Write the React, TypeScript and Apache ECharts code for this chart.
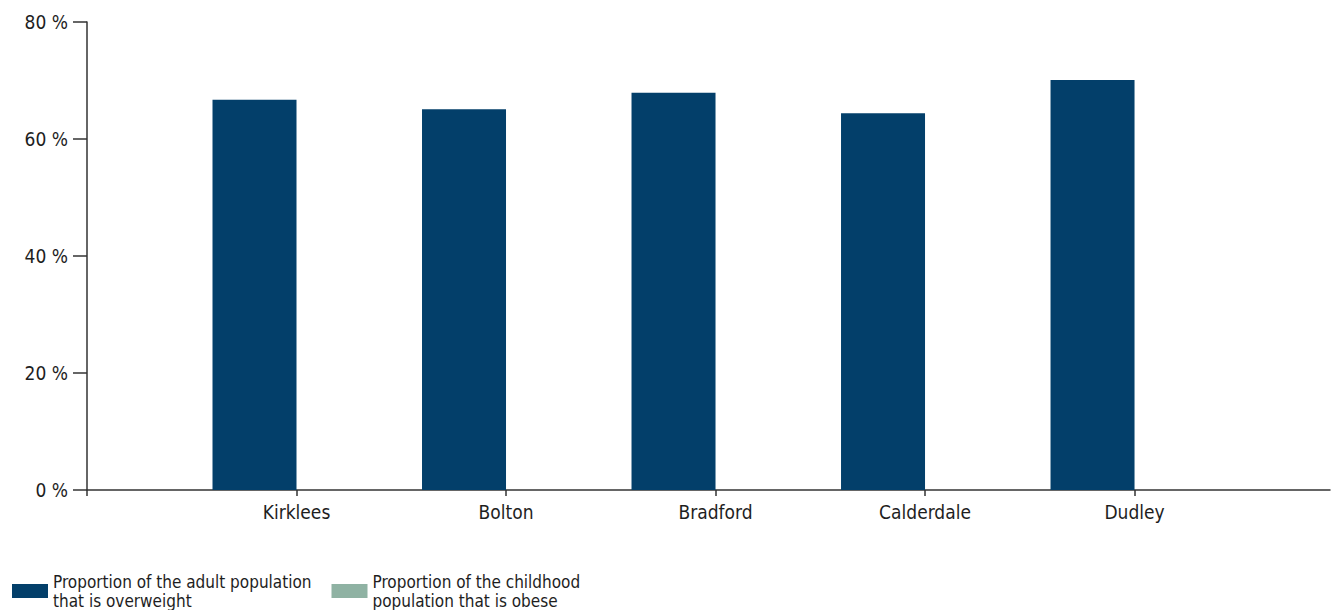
import React, { useEffect, useRef } from "react";
import * as echarts from "echarts";

const categories = ["Kirklees", "Bolton", "Bradford", "Calderdale", "Dudley"];
const adultOverweight = [66.7, 65.1, 67.9, 64.4, 70.1];
const childhoodObese: (number | string)[] = ["-", "-", "-", "-", "-"];
const yTicks = [0, 20, 40, 60, 80];
const seriesNames = [
  "Proportion of the adult population that is overweight",
  "Proportion of the childhood population that is obese",
];
const legendLabels = [
  "Proportion of the adult population\nthat is overweight",
  "Proportion of the childhood\npopulation that is obese",
];

const FONT = "'Liberation Sans Narrow', 'Arial Narrow', 'DejaVu Sans Condensed', sans-serif";
const TEXT = "#1e1e1e";
const AXIS = "#333333";

export default function App() {
  const ref = useRef<HTMLDivElement>(null);
  useEffect(() => {
    if (!ref.current) return;
    const chart = echarts.init(ref.current, null, { renderer: "svg" });
    const xMax = 5.933;
    chart.setOption({
      animation: false,
      backgroundColor: "#ffffff",
      textStyle: { fontFamily: FONT, color: TEXT },
      grid: { left: 87, top: 22, right: 2, bottom: 120, containLabel: false },
      legend: {
        left: 12,
        bottom: 0,
        padding: 0,
        itemWidth: 36,
        itemHeight: 14,
        itemGap: 20,
        icon: "rect",
        data: seriesNames,
        formatter: (name: string) => legendLabels[seriesNames.indexOf(name)],
        textStyle: { fontFamily: FONT, fontSize: 17, lineHeight: 19, color: TEXT },
      },
      xAxis: {
        type: "value",
        min: 0,
        max: xMax,
        interval: 1,
        splitLine: { show: false },
        axisLine: { show: true, lineStyle: { color: AXIS, width: 1.5 } },
        axisTick: {
          show: true,
          length: 6,
          lineStyle: { color: AXIS, width: 1.5 },
          customValues: [0, 1, 2, 3, 4, 5],
        },
        axisLabel: {
          customValues: [1, 2, 3, 4, 5],
          margin: 12,
          fontFamily: FONT,
          fontSize: 19,
          color: TEXT,
          formatter: (v: number) => categories[Math.round(v) - 1] ?? "",
        },
      },
      yAxis: {
        type: "value",
        min: yTicks[0],
        max: yTicks[yTicks.length - 1],
        interval: 20,
        splitLine: { show: false },
        axisLine: { show: true, lineStyle: { color: AXIS, width: 1.5 } },
        axisTick: { show: true, length: 14, lineStyle: { color: AXIS, width: 1.5 } },
        axisLabel: {
          margin: 19,
          fontFamily: FONT,
          fontSize: 19,
          color: TEXT,
          formatter: "{value} %",
        },
      },
      series: [
        {
          name: seriesNames[0],
          type: "bar",
          barWidth: 84,
          barGap: "0%",
          itemStyle: { color: "#033f6a" },
          data: adultOverweight.map((v, i) => [i + 1, v]),
        },
        {
          name: seriesNames[1],
          type: "bar",
          barWidth: 84,
          barGap: "0%",
          itemStyle: { color: "#8fb2a3" },
          data: childhoodObese.map((v, i) => [i + 1, v]),
        },
      ],
    });
    return () => chart.dispose();
  }, []);
  return (
    <div
      ref={ref}
      style={{ position: "fixed", left: 0, top: 0, width: 1332, height: 610 }}
    />
  );
}
